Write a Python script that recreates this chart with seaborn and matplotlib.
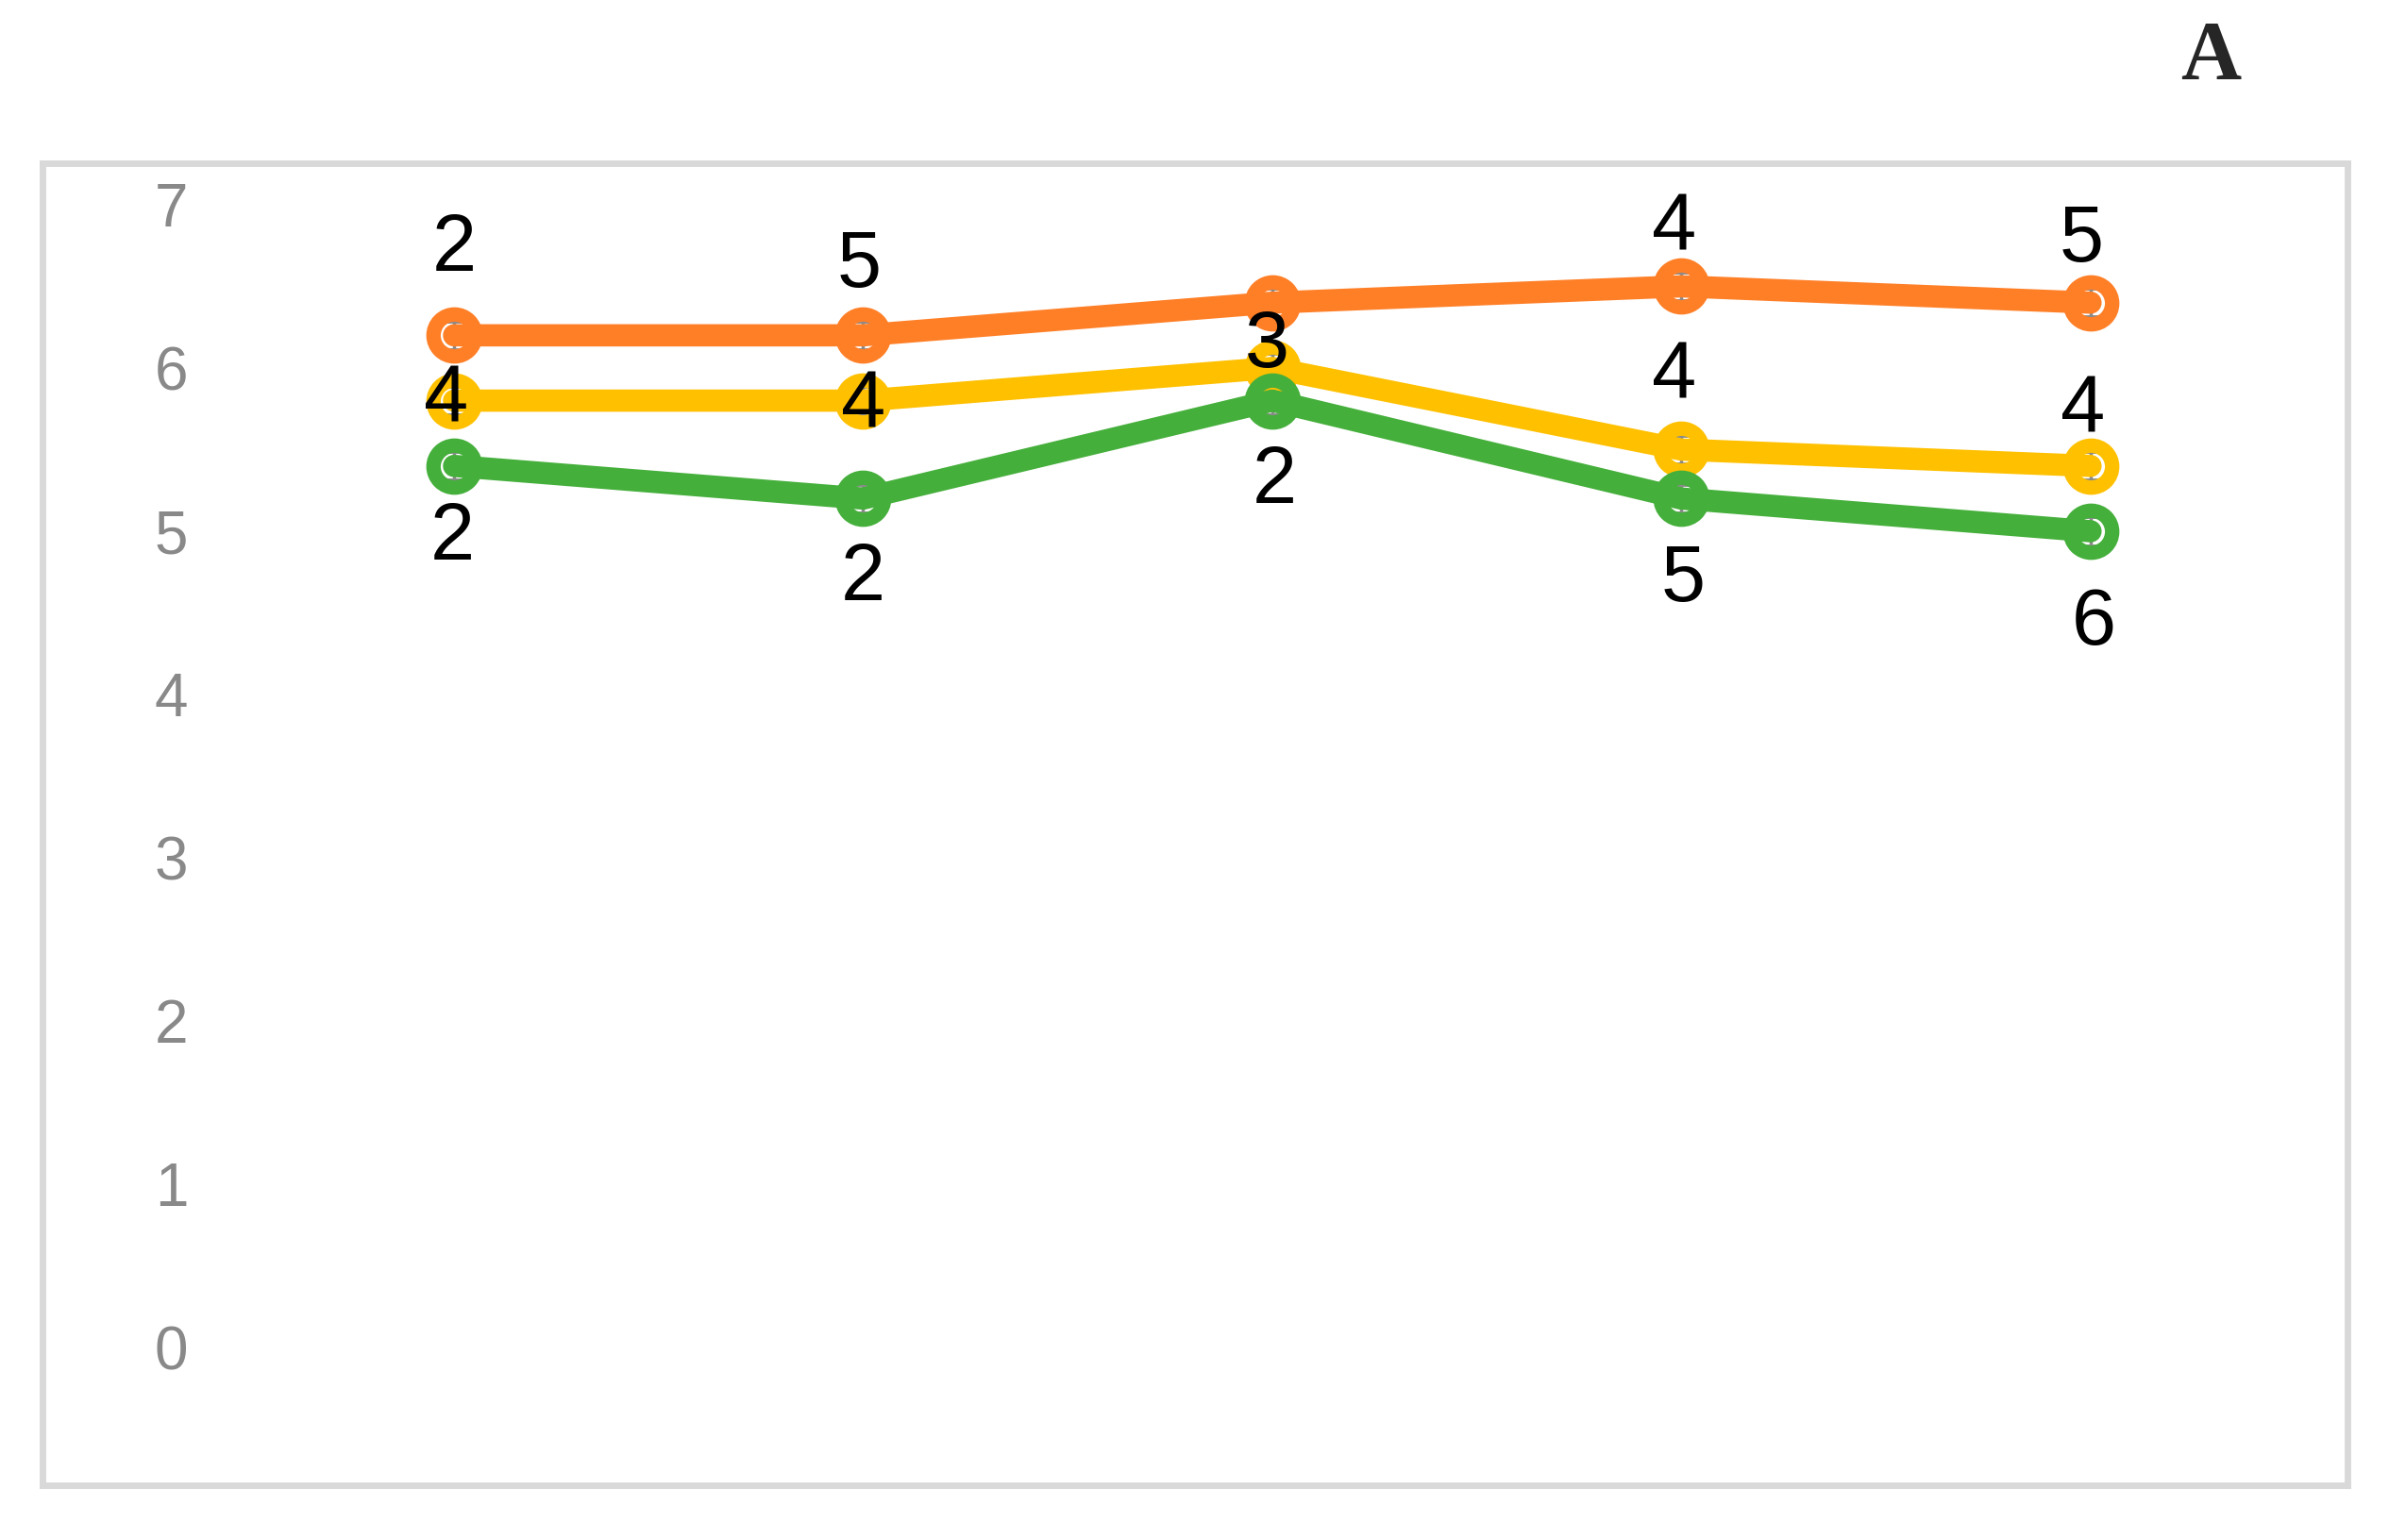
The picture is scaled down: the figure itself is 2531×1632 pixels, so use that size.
import matplotlib
matplotlib.use("Agg")
import numpy as np
import pandas as pd
import seaborn as sns
import matplotlib.pyplot as plt

# data
points = [1, 2, 3, 4, 5]
orange_vals = [6.2, 6.2, 6.4, 6.5, 6.4]
yellow_vals = [5.8, 5.8, 6.0, 5.5, 5.4]
green_vals = [5.4, 5.2, 5.8, 5.2, 5.0]
err_vals = [0.09, 0.09, 0.09, 0.09, 0.09]
orange_labels = ["2", "5", "", "4", "5"]
yellow_labels = ["4", "4", "3", "4", "4"]
green_labels = ["2", "2", "2", "5", "6"]
y_ticks = [0, 1, 2, 3, 4, 5, 6, 7]

# label offsets in pixels (layout only)
orange_off = [(0, 90), (-4, 73), (0, 0), (-8, 61), (-10, 66)]
yellow_off = [(-8, 0), (0, -6), (-6, 23), (-8, 77), (-8, 58)]
green_off = [(-2, -77), (0, -86), (2, -86), (2, -87), (4, -98)]

sns.set_style("white")
plt.rcParams["font.family"] = ["Liberation Sans", "DejaVu Sans"]

fig = plt.figure(figsize=(25.31, 16.32), dpi=100)
W, H = 2531, 1632
left, right, top, bottom = 45, 2487, 173, 1574
ax = fig.add_axes([left / W, 1 - bottom / H, (right - left) / W, (bottom - top) / H])

series = [
    (orange_vals, orange_labels, orange_off, "#FF7F27"),
    (yellow_vals, yellow_labels, yellow_off, "#FFC000"),
    (green_vals, green_labels, green_off, "#45AF3B"),
]

for vals, labs, offs, col in series:
    df = pd.DataFrame({"x": np.arange(len(points)), "y": vals})
    ax.errorbar(df["x"], df["y"], yerr=err_vals, fmt="none", ecolor="#8a8a8a",
                elinewidth=2.5, capsize=10, capthick=3.5, zorder=1)
    sns.lineplot(data=df, x="x", y="y", ax=ax, color=col, marker="o", zorder=2)
    ln = ax.lines[-1]
    ln.set_linewidth(17)
    ln.set_markersize(32)
    ln.set_markerfacecolor("none")
    ln.set_markeredgecolor(col)
    ln.set_markeredgewidth(11)
    for i, (v, t) in enumerate(zip(vals, labs)):
        if t:
            ax.annotate(t, (i, v), xytext=offs[i], textcoords="offset pixels",
                        ha="center", va="center", fontsize=61, color="black",
                        zorder=5)

# axis limits so that 0..7 sits where the reference puts it
ax.set_ylim(-0.844, 7.254)
ax.set_xlim(-1.006, 4.628)
ax.set_xticks([])
ax.set_yticks(y_ticks)
ax.set_yticklabels([str(t) for t in y_ticks])
ax.tick_params(axis="y", length=0, pad=-111, labelsize=46, labelcolor="#898989")
ax.set_xlabel("")
ax.set_ylabel("")
ax.grid(False)

for s in ax.spines.values():
    s.set_visible(True)
    s.set_color("#d9d9d9")
    s.set_linewidth(5)

fig.text(2342 / W, 1 - 83 / H, "A", ha="center", va="baseline", fontsize=64,
         fontweight="bold", family="Liberation Serif")

fig.savefig("out.png", dpi=100)
